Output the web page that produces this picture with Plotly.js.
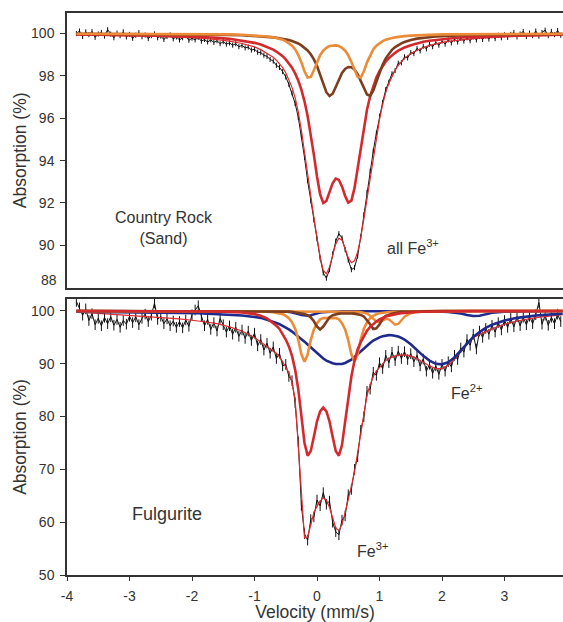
<!DOCTYPE html>
<html><head><meta charset="utf-8">
<script src="https://cdn.plot.ly/plotly-3.0.1.min.js"></script>
<style>html,body{margin:0;padding:0;background:#fff}#chart{width:563px;height:622px}</style>
</head><body><div id="chart"></div>
<script>
// Measured velocity channels (mm/s)
const velocity = [-3.85,-3.8,-3.75,-3.7,-3.65,-3.6,-3.55,-3.5,-3.45,-3.4,-3.35,-3.3,-3.25,-3.2,-3.15,-3.1,-3.05,-3,-2.95,-2.9,-2.85,-2.8,-2.75,-2.7,-2.65,-2.6,-2.55,-2.5,-2.45,-2.4,-2.35,-2.3,-2.25,-2.2,-2.15,-2.1,-2.05,-2,-1.95,-1.9,-1.85,-1.8,-1.75,-1.7,-1.65,-1.6,-1.55,-1.5,-1.45,-1.4,-1.35,-1.3,-1.25,-1.2,-1.15,-1.1,-1.05,-1,-0.95,-0.9,-0.85,-0.8,-0.75,-0.7,-0.65,-0.6,-0.55,-0.5,-0.45,-0.4,-0.35,-0.3,-0.25,-0.2,-0.15,-0.1,-0.05,0,0.05,0.1,0.15,0.2,0.25,0.3,0.35,0.4,0.45,0.5,0.55,0.6,0.65,0.7,0.75,0.8,0.85,0.9,0.95,1,1.05,1.1,1.15,1.2,1.25,1.3,1.35,1.4,1.45,1.5,1.55,1.6,1.65,1.7,1.75,1.8,1.85,1.9,1.95,2,2.05,2.1,2.15,2.2,2.25,2.3,2.35,2.4,2.45,2.5,2.55,2.6,2.65,2.7,2.75,2.8,2.85,2.9,2.95,3,3.05,3.1,3.15,3.2,3.25,3.3,3.35,3.4,3.45,3.5,3.55,3.6,3.65,3.7,3.75,3.8,3.85,3.9];

// Country Rock (Sand) measured absorption (%)
const sandData = [100.0,100.12,99.86,100.08,99.95,100.1,99.82,99.98,100.05,99.88,100.18,99.97,99.8,100.02,99.9,100.08,99.84,99.96,99.78,99.92,100.04,99.85,99.93,99.76,99.9,99.98,99.8,99.88,99.72,99.86,99.94,99.75,99.84,99.7,99.8,99.9,99.68,99.78,99.7,99.82,99.64,99.72,99.6,99.7,99.58,99.66,99.52,99.62,99.5,99.56,99.45,99.52,99.38,99.44,99.32,99.36,99.22,99.26,99.12,99.1,98.98,98.92,98.78,98.7,98.5,98.4,98.2,97.95,97.6,97.2,96.7,96.05,95.2,94.15,93.05,92.1,91.2,90.3,89.4,88.7,88.45,88.85,89.6,90.2,90.55,90.35,89.8,89.3,88.85,88.95,89.5,90.4,91.45,92.5,93.5,94.45,95.3,96.1,96.75,97.35,97.7,98.1,98.25,98.6,98.62,98.9,98.85,99.1,99.05,99.3,99.18,99.4,99.28,99.5,99.38,99.58,99.45,99.64,99.5,99.7,99.56,99.74,99.6,99.78,99.64,99.8,99.66,99.84,99.7,99.86,99.72,99.88,99.74,99.9,99.76,99.92,99.8,99.94,99.82,99.96,100.05,99.84,99.98,100.1,99.86,100.02,99.9,100.12,99.88,100.05,100.16,99.9,100.1,99.95,100.14,99.92];

// Fulgurite measured absorption (%)
const fulgData = [101.8,100.6,99.2,100.4,98.2,99.5,97.4,98.6,97.2,98.8,97.6,98.9,97.3,98.4,96.9,98.2,97.5,99.0,97.8,98.9,97.4,98.6,99.4,98.0,99.2,101.5,98.4,99.0,97.6,98.5,97.2,98.1,96.9,98.0,96.8,98.3,97.1,99.3,100.2,101.0,99.1,97.2,98.4,96.5,97.8,96.2,98.6,97.4,96.0,97.2,95.6,96.9,95.2,96.4,94.8,96.2,94.4,95.8,93.4,94.6,92.6,93.9,92.0,93.2,91.0,92.0,89.6,89.9,87.6,86.8,82.6,75.2,63.2,57.8,56.6,60.5,61.0,64.2,63.1,65.6,63.4,64.0,60.0,58.2,57.6,60.4,61.2,65.2,66.2,70.0,72.4,77.4,80.0,84.8,85.2,88.4,87.8,90.2,89.1,91.6,90.2,92.2,90.6,92.4,91.0,92.3,90.8,91.9,90.4,91.6,89.6,90.9,88.6,89.9,88.2,89.6,88.0,89.9,88.6,90.4,89.4,91.6,90.8,93.0,92.2,94.6,93.5,95.6,92.8,96.2,95.0,96.7,95.6,97.3,96.0,97.8,96.4,98.2,96.9,98.6,97.0,98.9,97.2,98.8,97.4,99.0,97.6,99.3,101.6,97.5,99.2,97.3,98.8,97.6,99.4,98.0];

// Velocities at which the fitted curves were read
const fitVel = [-3.85,-3.4,-3.0,-2.6,-2.2,-1.9,-1.6,-1.4,-1.2,-1.0,-0.9,-0.8,-0.7,-0.65,-0.6,-0.55,-0.5,-0.45,-0.4,-0.35,-0.3,-0.25,-0.2,-0.15,-0.1,-0.05,0,0.05,0.1,0.15,0.2,0.25,0.3,0.35,0.4,0.45,0.5,0.55,0.6,0.65,0.7,0.75,0.8,0.85,0.9,0.95,1.0,1.05,1.1,1.15,1.2,1.25,1.3,1.35,1.4,1.5,1.6,1.7,1.8,1.9,2.0,2.1,2.2,2.3,2.4,2.5,2.6,2.7,2.8,3.0,3.2,3.5,3.93];

// Country Rock fit
const sandTotal = [99.94,99.92,99.9,99.87,99.83,99.79,99.71,99.64,99.53,99.37,99.24,99.08,98.88,98.74,98.59,98.39,98.15,97.84,97.46,96.97,96.3,95.43,94.36,93.23,92.23,91.32,90.38,89.46,88.82,88.66,88.97,89.53,90.07,90.34,90.25,89.85,89.42,89.18,89.27,89.68,90.37,91.25,92.16,93.09,94.08,95.08,95.94,96.64,97.22,97.65,98.0,98.27,98.5,98.68,98.83,99.06,99.22,99.34,99.44,99.52,99.58,99.63,99.67,99.71,99.74,99.76,99.78,99.8,99.82,99.84,99.86,99.89,99.92];
const sandRed = [99.96,99.95,99.93,99.91,99.88,99.85,99.8,99.75,99.67,99.56,99.48,99.37,99.24,99.15,99.05,98.93,98.78,98.6,98.39,98.12,97.78,97.35,96.8,96.11,95.26,94.27,93.25,92.41,92.0,92.1,92.51,92.93,93.15,93.09,92.78,92.33,92.02,92.11,92.7,93.65,94.68,95.62,96.4,97.04,97.53,97.93,98.23,98.47,98.68,98.84,98.98,99.09,99.19,99.27,99.34,99.45,99.54,99.61,99.66,99.7,99.74,99.77,99.79,99.81,99.83,99.85,99.86,99.87,99.88,99.9,99.91,99.93,99.95];
const sandBrown = [99.99,99.985,99.98,99.975,99.97,99.96,99.95,99.935,99.92,99.89,99.87,99.85,99.82,99.8,99.78,99.75,99.72,99.69,99.65,99.6,99.53,99.44,99.34,99.2,99.02,98.78,98.47,98.07,97.63,97.23,97.05,97.16,97.48,97.84,98.14,98.33,98.42,98.41,98.3,98.08,97.77,97.41,97.12,97.06,97.3,97.72,98.16,98.53,98.83,99.05,99.23,99.36,99.46,99.54,99.6,99.7,99.76,99.8,99.84,99.86,99.88,99.9,99.91,99.92,99.93,99.94,99.945,99.95,99.955,99.96,99.965,99.97,99.98];
const sandOrange = [99.99,99.99,99.99,99.985,99.98,99.975,99.97,99.96,99.94,99.91,99.89,99.86,99.82,99.79,99.76,99.71,99.64,99.55,99.43,99.25,98.99,98.64,98.22,97.92,97.95,98.27,98.66,98.98,99.19,99.33,99.41,99.44,99.44,99.41,99.33,99.19,98.98,98.66,98.27,97.95,97.92,98.22,98.64,98.99,99.25,99.43,99.55,99.64,99.71,99.76,99.79,99.82,99.85,99.87,99.88,99.9,99.92,99.93,99.94,99.95,99.96,99.96,99.965,99.97,99.97,99.97,99.975,99.98,99.98,99.98,99.985,99.99,99.99];

// Fulgurite fit
const fulgTotal = [99.85,99.5,99.2,98.85,98.5,98.1,97.6,97.0,96.2,95.0,94.13,93.3,92.5,92.0,91.3,90.4,89.4,88.3,86.5,83.3,74.5,64.0,57.0,57.2,59.8,61.8,63.0,64.0,64.6,64.2,62.8,60.9,58.9,58.4,59.6,61.8,64.6,66.8,69.5,73.0,76.8,80.5,84.0,86.0,87.6,88.6,89.3,90.0,90.6,91.0,91.3,91.45,91.6,91.65,91.7,91.5,91.0,90.3,89.6,89.1,89.1,89.7,90.8,92.3,93.8,95.0,95.6,96.1,96.6,97.5,98.1,98.75,99.3];
const fulgRed = [99.99,99.99,99.99,99.98,99.97,99.95,99.9,99.84,99.7,99.4,99.1,98.6,97.7,97.2,96.6,95.7,94.6,93.3,91.5,88.9,85.2,80.2,75.0,72.6,73.5,76.2,79.1,81.0,81.7,81.0,79.1,76.2,73.5,72.6,74.6,79.0,83.7,87.6,90.6,92.7,94.1,95.3,96.25,97.0,97.54,98.0,98.4,98.7,98.95,99.12,99.28,99.4,99.5,99.57,99.64,99.75,99.82,99.86,99.89,99.91,99.93,99.94,99.95,99.96,99.965,99.97,99.975,99.98,99.98,99.985,99.99,99.99,99.99];
const fulgOrange = [100,100,100,100,100,99.99,99.98,99.97,99.96,99.93,99.9,99.86,99.77,99.69,99.57,99.41,99.08,98.65,97.9,96.66,94.6,91.8,90.4,91.75,94.47,96.5,97.7,98.42,98.65,98.7,98.7,98.7,98.65,98.42,97.7,96.5,94.47,91.75,90.4,91.8,94.6,96.66,97.9,98.65,99.08,99.41,99.57,99.69,99.77,99.82,99.86,99.88,99.9,99.915,99.93,99.95,99.96,99.97,99.97,99.98,99.98,99.99,99.99,100,100,100,100,100,100,100,100,100,100];
const fulgOrange2 = [100,100,100,100,100,100,100,100,100,100,100,100,100,100,100,100,100,100,100,100,100,100,100,100,100,100,100,100,100,100,100,100,100,99.98,99.97,99.96,99.95,99.93,99.9,99.86,99.81,99.7,99.52,99.1,98.62,98.0,97.85,98.23,98.5,98.42,97.95,97.39,97.55,98.31,98.92,99.58,99.82,99.9,99.95,99.97,99.98,100,100,100,100,100,100,100,100,100,100,100,100];
const fulgBrown = [100,100,100,100,100,100,100,100,99.99,99.98,99.97,99.96,99.95,99.94,99.93,99.91,99.9,99.87,99.85,99.78,99.71,99.53,99.41,99.2,98.8,98.05,97.05,96.49,97.05,98.05,98.8,99.2,99.41,99.5,99.52,99.56,99.56,99.52,99.5,99.41,99.25,98.95,98.3,97.5,96.6,96.71,97.45,98.5,99.05,99.3,99.47,99.6,99.74,99.83,99.86,99.9,99.93,99.95,99.96,99.97,99.98,99.99,99.99,100,100,100,100,100,100,100,100,100,100];
const fulgBlue = [99.85,99.82,99.78,99.72,99.65,99.57,99.45,99.32,99.15,98.85,98.7,98.35,98.0,97.75,97.5,97.2,96.9,96.5,96.1,95.65,95.2,94.7,94.2,93.65,93.1,92.55,92.0,91.5,91.0,90.6,90.3,90.1,89.95,89.9,89.95,90.15,90.4,90.8,91.3,91.85,92.4,92.95,93.5,93.95,94.4,94.75,95.0,95.2,95.35,95.42,95.4,95.3,95.15,94.9,94.6,93.7,92.6,91.5,90.6,90.0,89.9,90.3,91.2,92.5,93.9,95.1,96.0,96.8,97.4,98.2,98.7,99.15,99.5];
const fulgBlue2 = [100,100,100,100,100,100,100,100,100,100,99.99,99.98,99.97,99.96,99.94,99.92,99.88,99.82,99.72,99.58,99.4,99.22,99.1,99.08,99.2,99.38,99.55,99.68,99.76,99.82,99.86,99.9,99.92,99.93,99.94,99.95,99.95,99.95,99.95,99.95,99.95,99.95,99.95,99.95,99.95,99.95,99.95,99.95,99.95,99.95,99.95,99.95,99.95,99.95,99.95,99.94,99.94,99.93,99.92,99.9,99.86,99.8,99.7,99.52,99.25,99.05,99.1,99.4,99.65,99.85,99.92,99.96,99.98];

// Axis ticks
const xTicks = [-4,-3,-2,-1,0,1,2,3];
const xTickText = ['-4','-3','-2','-1','0','1','2','3'];
const sandYTicks = [90,92,94,96,98,100];
const fulgYTicks = [50,60,70,80,90,100];

const C = {
  data:'#111111', total:'#e02b30', red:'#d42a2e', brown:'#7c3e1e',
  orange:'#ec8b38', navy:'#1f2a8c', axis:'#333333'
};
const FAMILY = 'Liberation Sans, Arial, sans-serif';

function curve(x, y, xa, ya, color, width){
  return {x:x, y:y, xaxis:xa, yaxis:ya, type:'scatter', mode:'lines',
    line:{color:color, width:width}, hoverinfo:'skip', showlegend:false};
}
function dataTrace(y, xa, ya, err){
  return {x:velocity, y:y, xaxis:xa, yaxis:ya, type:'scatter', mode:'lines',
    line:{color:C.data, width:1},
    error_y:{type:'constant', value:err, color:C.data, thickness:1, width:0},
    hoverinfo:'skip', showlegend:false};
}

const traces = [
  dataTrace(sandData, 'x', 'y', 0.12),
  curve(fitVel, sandTotal, 'x', 'y', C.total, 1.2),
  curve(fitVel, sandRed, 'x', 'y', C.red, 2.6),
  curve(fitVel, sandBrown, 'x', 'y', C.brown, 2.6),
  curve(fitVel, sandOrange, 'x', 'y', C.orange, 2.6),

  dataTrace(fulgData, 'x2', 'y2', 1.0),
  curve(fitVel, fulgTotal, 'x2', 'y2', C.total, 1.2),
  curve(fitVel, fulgBlue2, 'x2', 'y2', C.navy, 2.4),
  curve(fitVel, fulgBlue, 'x2', 'y2', C.navy, 2.6),
  curve(fitVel, fulgOrange2, 'x2', 'y2', C.orange, 2.4),
  curve(fitVel, fulgOrange, 'x2', 'y2', C.orange, 2.6),
  curve(fitVel, fulgBrown, 'x2', 'y2', C.brown, 2.6),
  curve(fitVel, fulgRed, 'x2', 'y2', C.red, 2.6)
];

const axisCommon = {showline:true, linecolor:C.axis, linewidth:1.5, showgrid:false, zeroline:false};
const titleFont = {family:FAMILY, size:17.5, color:'#333'};
function af(size){ return {family:FAMILY, size:size, color:'#333'}; }

const layout = {
  width:563, height:622,
  margin:{l:67, r:0, t:13, b:47},
  paper_bgcolor:'#fff', plot_bgcolor:'#fff',
  showlegend:false,
  font:{family:FAMILY, size:14, color:'#333'},
  xaxis:Object.assign({}, axisCommon, {domain:[0,1], anchor:'y', range:[-4,3.936],
    showticklabels:false, ticks:'', mirror:true}),
  xaxis2:Object.assign({}, axisCommon, {domain:[0,1], anchor:'y2', range:[-4,3.936],
    tickvals:xTicks, ticktext:xTickText, ticks:'outside', ticklen:4, tickwidth:1.2, tickcolor:C.axis,
    mirror:true, ticklabelstandoff:3,
    title:{text:'Velocity (mm/s)', font:titleFont, standoff:9}}),
  yaxis:Object.assign({}, axisCommon, {domain:[0.5112,1], anchor:'x', range:[88,100.97],
    tickvals:sandYTicks, ticks:'outside', ticklen:5, tickwidth:1.2, tickcolor:C.axis, ticklabelstandoff:3,
    title:{text:'Absorption (%)', font:titleFont, standoff:0}}),
  yaxis2:Object.assign({}, axisCommon, {domain:[0,0.4911], anchor:'x2', range:[50,102.27],
    tickvals:fulgYTicks, ticks:'outside', ticklen:5, tickwidth:1.2, tickcolor:C.axis, ticklabelstandoff:3,
    title:{text:'Absorption (%)', font:titleFont, standoff:0}}),
  annotations:[
    {xref:'paper', x:0, xanchor:'right', xshift:-8, yref:'y', y:88, yshift:8, text:'88', showarrow:false, font:af(14)},
    {xref:'x', yref:'y', x:-2.45, y:90.84, text:'Country Rock<br>(Sand)', showarrow:false, font:af(16)},
    {xref:'x', yref:'y', x:1.08, y:89.9, xanchor:'left', text:'all Fe<sup>3+</sup>', showarrow:false, font:af(16)},
    {xref:'x2', yref:'y2', x:-2.40, y:61.55, text:'Fulgurite', showarrow:false, font:af(18)},
    {xref:'x2', yref:'y2', x:2.107, y:84.6, xanchor:'left', text:'Fe<sup>2+</sup>', showarrow:false, font:af(16)},
    {xref:'x2', yref:'y2', x:0.611, y:54.7, xanchor:'left', text:'Fe<sup>3+</sup>', showarrow:false, font:af(16)}
  ]
};

Plotly.newPlot('chart', traces, layout, {displayModeBar:false});
</script>
</body></html>
